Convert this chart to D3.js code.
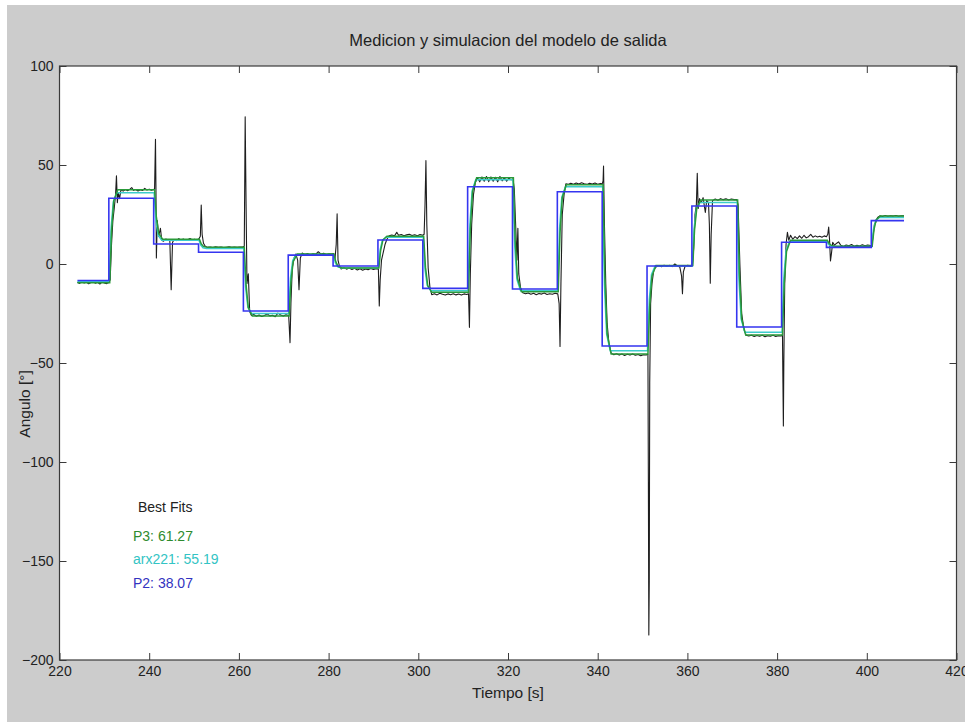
<!DOCTYPE html>
<html>
<head>
<meta charset="utf-8">
<script src="https://cdn.jsdelivr.net/npm/d3@7"></script>
<style>
  html, body { margin: 0; padding: 0; background: #ffffff; }
  svg { display: block; font-family: "Liberation Sans", Arial, sans-serif; }
</style>
</head>
<body>
<svg id="chart" width="965" height="722"></svg>
<script>
// ---------- DATA ----------
const titleText = "Medicion y simulacion del modelo de salida";
const xLabelText = "Tiempo [s]";
const yLabelText = "Angulo [°]";
const xTicks = [220, 240, 260, 280, 300, 320, 340, 360, 380, 400, 420];
const yTicks = [100, 50, 0, -50, -100, -150, -200];
const legendTitle = "Best Fits";
const legendEntries = ["P3: 61.27", "arx221: 55.19", "P2: 38.07"];

// P2 (blue) step model: switching times and levels
const p2Times  = [224, 231, 241, 251, 261, 271, 281, 291, 301, 311, 321, 331, 341, 351, 361, 371, 381, 391, 401, 408.3];
const p2Levels = [-8.3, 33.2, 10.1, 5.9, -23.7, 4.5, -1, 12.1, -12.3, 39, -12.6, 36.5, -41.4, -1, 29.3, -31.8, 11, 8.4, 21.9, 21.9];

// P3 (green) simulated output
const p3 = [
  [224,-9.5],[231.2,-9.5],[231.6,16.4],[232.1,31.9],[233,37.5],
  [241.2,37.5],[241.6,23.8],[242.1,15.5],[243,12.5],
  [251.2,12.5],[251.6,10.2],[252.1,8.9],[253,8.4],
  [261.2,8.4],[261.6,-10.7],[262.1,-22.1],[263,-26.3],
  [271.2,-26.3],[271.6,-9.1],[272.1,1.2],[273,5],
  [281.2,5],[281.6,1.2],[282.1,-1.2],[283,-2],
  [291.2,-2],[291.6,6.8],[292.1,12.1],[293,14],
  [301.2,14],[301.6,-1.6],[302.1,-10.9],[303,-14.3],
  [311.2,-14.3],[311.6,17.5],[312.1,36.6],[313,43.5],
  [321.2,43.5],[321.6,11.9],[322.1,-7.1],[323,-14],
  [331.2,-14],[331.6,15.7],[332.1,33.5],[333,40],
  [341.2,40],[341.6,-7],[342.1,-35.2],[343,-45.5],
  [351.2,-45.5],[351.6,-20.9],[352.1,-6.1],[353,-0.8],
  [361.2,-0.8],[361.6,17.4],[362.1,28.3],[363,32.3],
  [371.2,32.3],[371.6,-5.2],[372.1,-27.7],[373,-35.9],
  [381.2,-35.9],[381.6,-9.6],[382.1,6.3],[383,12],
  [391.2,12],[391.6,10.3],[392.1,9.4],[393,9],
  [401.2,9],[401.6,17.4],[402.1,22.4],[403,24.2],[408.3,24.2]
];

// arx221 (cyan) simulated output
const arx221 = [
  [224,-9],[231.1,-9],[231.5,18],[232,31.5],[232.8,36],
  [241.1,36],[241.5,21.6],[242,14.4],[242.8,12],
  [251.1,12],[251.5,9.5],[252,8.2],[252.8,7.8],
  [261.1,7.8],[261.5,-11.9],[262,-21.7],[262.8,-25],
  [271.1,-25],[271.5,-7.1],[272,1.8],[272.8,4.8],
  [281.1,4.8],[281.5,0.7],[282,-1.3],[282.8,-2],
  [291.1,-2],[291.5,7.3],[292,12],[292.8,13.5],
  [301.1,13.5],[301.5,-2.7],[302,-10.8],[302.8,-13.5],
  [311.1,-13.5],[311.5,20.1],[312,36.9],[312.8,42.5],
  [321.1,42.5],[321.5,8.9],[322,-7.9],[322.8,-13.5],
  [331.1,-13.5],[331.5,18],[332,33.8],[332.8,39],
  [341.1,39],[341.5,-10.7],[342,-35.5],[342.8,-43.8],
  [351.1,-43.8],[351.5,-18.1],[352,-5.3],[352.8,-1],
  [361.1,-1],[361.5,18.2],[362,27.8],[362.8,31],
  [371.1,31],[371.5,-8.3],[372,-28],[372.8,-34.5],
  [381.1,-34.5],[381.5,-6.9],[382,6.9],[382.8,11.5],
  [391.1,11.5],[391.5,9.9],[392,9.1],[392.8,8.8],
  [401.1,8.8],[401.5,17.6],[402,22],[402.8,23.5],[408.3,23.5]
];

// Measured output (black)
const measured = [
  [224,-9.2],[224.5,-9.8],[225,-8.9],[225.5,-9.6],[226,-9.1],[226.5,-10],[227,-9.3],[227.5,-8.8],[228,-9.7],[228.5,-9.2],[229,-10.1],[229.5,-9],[230,-9.6],[230.5,-9.9],[231,-9.3],
  [231.3,-8],[231.6,10],[231.9,22],[232.2,28],[232.5,35],[232.7,44.5],[232.9,31],[233.1,36],[233.4,33],[233.7,37.5],
  [234.2,36.8],[234.7,37.6],[235.2,37],[235.7,37.8],[236.1,38.6],[236.5,37.2],[237,37.6],[237.5,36.9],[238,37.5],[238.5,37.1],[239,38.2],[239.5,37.4],[240,37.8],[240.5,37.2],[241,37.6],
  [241.2,38],[241.4,63],[241.5,40],[241.6,3],[241.8,22],[242.1,14],[242.5,18],[242.8,12],[243.2,11.5],[243.7,12.6],[244.2,12],[244.6,11.8],[244.9,-13],[245.2,11],[245.6,12.4],[246.1,11.8],[246.6,12.8],[247.1,12],[247.6,12.6],[248.1,11.9],[248.6,12.3],[249.1,12.9],[249.6,12.1],[250.1,12.5],[250.6,12],[251.1,12.8],
  [251.4,14],[251.6,29.8],[251.8,15],[252.1,10.5],[252.5,9],[253,8.4],[253.6,8.6],[254.2,8.3],[254.8,8.7],[255.4,8.4],[256,8.6],[256.6,8.3],[257.2,8.5],[257.8,8.7],[258.4,8.4],[259,8.6],[259.6,8.4],[260.2,8.6],[260.8,8.5],[261.2,9],
  [261.4,74.4],[261.6,30],[261.8,-10],[262.1,-5],[262.4,-24],[262.8,-26],[263.3,-25.5],[263.9,-26.4],[264.5,-25.8],[265.1,-26.5],[265.7,-26],[266.3,-25.2],[266.9,-26.2],[267.5,-25.9],[268.1,-26.6],[268.7,-24.8],[269.3,-25.7],[269.9,-26.3],[270.5,-25.6],[271.1,-26],
  [271.4,-39.7],[271.6,-20],[271.9,-2],[272.3,3],[272.7,5],[273.1,2],[273.4,-13],[273.7,3],[274.1,5.5],[274.7,4.8],[275.3,5.3],[275.9,4.6],[276.5,5.2],[277.1,4.9],[277.7,6.2],[278.3,5],[278.9,5.4],[279.5,4.8],[280.1,5.2],[280.7,5],[281.1,5.3],
  [281.4,2],[281.7,10],[281.9,25.3],[282.1,2],[282.4,-1],[282.8,-2.5],[283.4,-1.8],[284,-2.6],[284.6,-2],[285.2,-2.8],[285.8,-2.2],[286.4,-3],[287,-2.4],[287.6,-3.1],[288.2,-2.5],[288.8,-2.9],[289.4,-2.3],[290,-2.8],[290.6,-2.4],[291.1,-2.6],
  [291.3,-21.2],[291.5,-8],[291.8,2],[292.2,6],[292.6,10],[293,12.5],[293.5,14.2],[294.1,14.6],[294.7,14.2],[295.2,16],[295.6,14.5],[296.2,14.9],[296.8,14.3],[297.4,14.7],[298,15],[298.6,14.4],[299.2,14.8],[299.8,14.3],[300.4,14.9],[301,14.5],
  [301.3,15],[301.5,30],[301.7,52.2],[301.9,20],[302.2,-2],[302.6,-12],[303,-15.5],[303.6,-15],[304.2,-15.6],[304.8,-14.8],[305.4,-15.3],[306,-15.7],[306.6,-15.1],[307.2,-15.5],[307.8,-15],[308.4,-15.6],[309,-15.2],[309.6,-15.7],[310.2,-15.1],[310.8,-15.4],
  [311.2,-15],[311.4,-32],[311.6,-5],[311.9,20],[312.3,35],[312.7,41],[313.2,43.5],[313.7,41.5],[314.2,44],[314.7,41.8],[315.2,44.2],[315.7,41.6],[316.2,44],[316.7,41.8],[317.2,43.8],[317.7,41.5],[318.2,44.2],[318.7,42],[319.2,43.6],[319.7,41.8],[320.2,43.4],[320.7,42.5],[321.1,43],
  [321.4,38],[321.7,20],[322,2],[322.2,18],[322.4,-5],[322.8,-12],[323.3,-14.5],[323.9,-15],[324.5,-14.6],[325.1,-15.3],[325.7,-14.8],[326.3,-15.5],[326.9,-14.9],[327.5,-15.2],[328.1,-14.7],[328.7,-15.4],[329.3,-15],[329.9,-15.3],[330.5,-14.8],[331.1,-15.1],
  [331.4,-20],[331.6,-41.7],[331.8,-10],[332.1,25],[332.5,35],[332.9,40.5],[333.4,40.2],[334,40.8],[334.6,40.3],[335.2,40.9],[335.8,40.4],[336.4,41],[337,40.5],[337.6,40.2],[338.2,40.8],[338.8,40.4],[339.4,40.9],[340,40.3],[340.6,40.7],[341,40.5],
  [341.2,42],[341.3,49.5],[341.5,20],[341.8,-10],[342.1,-30],[342.5,-40],[343,-45],[343.6,-45.8],[344.2,-45.3],[344.8,-46],[345.4,-45.5],[346,-46.2],[346.6,-45.6],[347.2,-46],[347.8,-45.4],[348.4,-46.1],[349,-45.7],[349.6,-46.3],[350.2,-45.8],[350.8,-46],[351.2,-45.5],
  [351.3,-110],[351.4,-187.4],[351.5,-160],[351.6,-60],[351.8,-20],[352.1,-10],[352.5,-3],[353,-1.5],[353.6,-0.8],[354.2,-1.4],[354.8,-0.6],[355.4,-1.2],[356,-0.7],[356.6,-1.3],[357.2,0],[357.8,-1],[358.3,-1.5],[358.7,-6],[358.9,-15],[359.1,-4],[359.5,-1],[360.1,-0.7],[360.7,-1.2],[361.1,-0.8],
  [361.4,8],[361.7,25],[362,30],[362.2,45.8],[362.4,28],[362.7,33],[363.1,31],[363.5,33.5],[364,26],[364.3,32],[364.7,31],[364.9,20],[365.1,-9.7],[365.3,15],[365.6,32],[366.2,32.8],[366.8,32.2],[367.4,33],[368,32.5],[368.6,32.9],[369.2,32.3],[369.8,32.8],[370.4,32.5],[371,32.6],
  [371.3,30],[371.7,0],[372.1,-25],[372.6,-33],[373.1,-36],[373.7,-36.4],[374.3,-36],[374.9,-36.6],[375.5,-36.1],[376.1,-36.5],[376.7,-36],[377.3,-36.7],[377.9,-36.2],[378.5,-36.5],[379.1,-36],[379.7,-36.6],[380.3,-36.2],[380.9,-36.4],[381.2,-36],
  [381.3,-60],[381.4,-81.8],[381.5,-50],[381.7,-10],[382,10],[382.3,16],[382.6,12],[383,14.5],[383.5,12.5],[384,13.8],[384.5,12.8],[385,14.2],[385.5,13],[386,14.5],[386.5,13.2],[387,13.8],[387.5,15],[388,13.5],[388.5,14.2],[389,13.6],[389.5,14],[390,13.5],[390.5,14.2],[391,13.8],
  [391.3,15],[391.5,18.7],[391.7,12],[391.9,1.5],[392.1,5],[392.4,11],[392.8,9.5],[393.3,10.5],[393.7,11.2],[394.2,9.5],[394.8,8.8],[395.4,9.6],[396,9.2],[396.6,9.8],[397.2,9],[397.8,9.5],[398.4,9.1],[399,9.7],[399.6,9.2],[400.2,9.6],[400.8,9.3],[401.1,9.5],
  [401.4,14],[401.7,20],[402,21],[402.4,23.5],[402.9,24.3],[403.5,24],[404.1,24.5],[404.7,24.1],[405.3,24.4],[405.9,24.2],[406.5,24.5],[407.1,24.1],[407.7,24.4],[408.3,24.3]
];

// ---------- LAYOUT ----------
const W = 965, H = 722;
const plot = { left: 59.5, right: 956.5, top: 66, bottom: 660 };
const colors = { measured: "#1e1e1e", p3: "#2a9a3a", arx: "#3ccccc", p2: "#3535f0", axis: "#3a3a3a", text: "#222222", fig: "#cccccc" };
const fontFamily = "'Liberation Sans', Arial, sans-serif";

const svg = d3.select("#chart");

// figure background (white margin at top-left as in the capture)
svg.append("rect").attr("x", 7).attr("y", 5).attr("width", W - 7).attr("height", H - 5).attr("fill", colors.fig);
svg.append("rect").attr("x", plot.left).attr("y", plot.top)
  .attr("width", plot.right - plot.left).attr("height", plot.bottom - plot.top).attr("fill", "#ffffff");

const x = d3.scaleLinear().domain([220, 420]).range([plot.left, plot.right]);
const y = d3.scaleLinear().domain([-200, 100]).range([plot.bottom, plot.top]);

// clip
svg.append("defs").append("clipPath").attr("id", "clip")
  .append("rect").attr("x", plot.left).attr("y", plot.top)
  .attr("width", plot.right - plot.left).attr("height", plot.bottom - plot.top);

const g = svg.append("g").attr("clip-path", "url(#clip)");

const line = d3.line().x(d => x(d[0])).y(d => y(d[1]));
const stepLine = d3.line().x(d => x(d[0])).y(d => y(d[1])).curve(d3.curveStepAfter);

g.append("path").datum(measured).attr("d", line)
  .attr("fill", "none").attr("stroke", colors.measured).attr("stroke-width", 1.1).attr("stroke-linejoin", "round");
g.append("path").datum(arx221).attr("d", line)
  .attr("fill", "none").attr("stroke", colors.arx).attr("stroke-width", 1.5);
g.append("path").datum(p3).attr("d", line)
  .attr("fill", "none").attr("stroke", colors.p3).attr("stroke-width", 1.5);
const p2Data = p2Times.map((t, i) => [t, p2Levels[i]]);
g.append("path").datum(p2Data).attr("d", stepLine)
  .attr("fill", "none").attr("stroke", colors.p2).attr("stroke-width", 1.6);

// ---------- AXES ----------
const tickLen = 7;
const axisBottom = d3.axisBottom(x).tickValues(xTicks).tickSize(-tickLen).tickPadding(6).tickFormat(d3.format("d"));
const axisTop = d3.axisTop(x).tickValues(xTicks).tickSize(-tickLen).tickFormat("");
const axisLeft = d3.axisLeft(y).tickValues(yTicks).tickSize(-tickLen).tickPadding(6).tickFormat(d3.format("d"));
const axisRight = d3.axisRight(y).tickValues(yTicks).tickSize(-tickLen).tickFormat("");

function styleAxis(sel) {
  sel.select(".domain").remove();
  sel.selectAll(".tick line").attr("stroke", colors.axis).attr("stroke-width", 1);
  sel.selectAll(".tick text").attr("fill", colors.text).style("font-size", "14px")
    .style("font-family", fontFamily);
}
svg.append("g").attr("transform", `translate(0,${plot.bottom})`).call(axisBottom).call(styleAxis);
svg.append("g").attr("transform", `translate(0,${plot.top})`).call(axisTop).call(styleAxis);
svg.append("g").attr("transform", `translate(${plot.left},0)`).call(axisLeft).call(styleAxis);
svg.append("g").attr("transform", `translate(${plot.right},0)`).call(axisRight).call(styleAxis);

// box
svg.append("rect").attr("x", plot.left).attr("y", plot.top)
  .attr("width", plot.right - plot.left).attr("height", plot.bottom - plot.top)
  .attr("fill", "none").attr("stroke", colors.axis).attr("stroke-width", 1.2);

// ---------- TEXT ----------
const cx = (plot.left + plot.right) / 2;
svg.append("text").attr("x", cx).attr("y", 46).attr("text-anchor", "middle")
  .attr("fill", colors.text).style("font-size", "16.5px").text(titleText);
svg.append("text").attr("x", cx).attr("y", 698).attr("text-anchor", "middle")
  .attr("fill", colors.text).style("font-size", "15.5px").text(xLabelText);
svg.append("text").attr("transform", "translate(30,404) rotate(-90)").attr("text-anchor", "middle")
  .attr("fill", colors.text).style("font-size", "15.5px").text(yLabelText);

// legend text block
const legendColors = ["#2e8b2e", "#33c4c4", "#3333c0"];
const legendY = [540.5, 564, 587.5];
svg.append("text").attr("x", 138).attr("y", 512).attr("fill", colors.text)
  .style("font-size", "14px").text(legendTitle);
legendEntries.forEach((t, i) => {
  svg.append("text").attr("x", 133).attr("y", legendY[i]).attr("fill", legendColors[i])
    .style("font-size", "14px").text(t);
});
</script>
</body>
</html>
